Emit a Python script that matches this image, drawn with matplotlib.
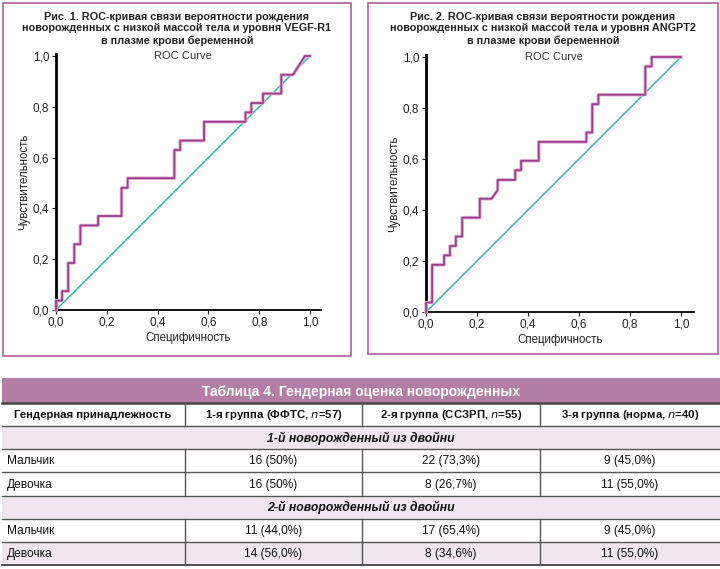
import matplotlib
matplotlib.use("Agg")
import matplotlib.pyplot as plt
from matplotlib.patches import Rectangle
from matplotlib.ticker import FuncFormatter

plt.rcParams['font.family'] = ['Liberation Sans', 'DejaVu Sans']

# ROC curve vertices (1 - specificity, sensitivity)
roc1_fpr = [0.0, 0.0, 0.024, 0.024, 0.048, 0.048, 0.072, 0.072, 0.096, 0.096, 0.166, 0.166,
            0.258, 0.258, 0.282, 0.282, 0.466, 0.466, 0.489, 0.489, 0.583, 0.583, 0.746, 0.746,
            0.769, 0.769, 0.815, 0.815, 0.887, 0.887, 0.933, 0.98, 1.0]
roc1_tpr = [0.0, 0.037, 0.037, 0.074, 0.074, 0.185, 0.185, 0.259, 0.259, 0.333, 0.333, 0.370,
            0.370, 0.481, 0.481, 0.519, 0.519, 0.630, 0.630, 0.667, 0.667, 0.741, 0.741, 0.778,
            0.778, 0.815, 0.815, 0.852, 0.852, 0.926, 0.926, 1.0, 1.0]

roc2_fpr = [0.0, 0.0, 0.024, 0.024, 0.071, 0.071, 0.094, 0.094, 0.117, 0.117, 0.142, 0.142,
            0.211, 0.211, 0.257, 0.281, 0.281, 0.35, 0.35, 0.373, 0.373, 0.442, 0.442, 0.629,
            0.629, 0.652, 0.652, 0.676, 0.676, 0.86, 0.86, 0.885, 0.885, 1.0]
roc2_tpr = [0.0, 0.037, 0.037, 0.185, 0.185, 0.222, 0.222, 0.259, 0.259, 0.296, 0.296, 0.370,
            0.370, 0.444, 0.444, 0.478, 0.518, 0.518, 0.556, 0.556, 0.593, 0.593, 0.667, 0.667,
            0.704, 0.704, 0.815, 0.815, 0.852, 0.852, 0.963, 0.963, 1.0, 1.0]

titles = ["Рис. 1. ROC-кривая связи вероятности рождения\n"
          "новорожденных с низкой массой тела и уровня VEGF-R1\n"
          "в плазме крови беременной",
          "Рис. 2. ROC-кривая связи вероятности рождения\n"
          "новорожденных с низкой массой тела и уровня ANGPT2\n"
          "в плазме крови беременной"]

ticks = [0.0, 0.2, 0.4, 0.6, 0.8, 1.0]

# table
table_title = "Таблица 4. Гендерная оценка новорожденных"
col_headers = ["Гендерная принадлежность", "1-я группа (ФФТС, $\\mathit{n}$=57)",
               "2-я группа (ССЗРП, $\\mathit{n}$=55)", "3-я группа (норма, $\\mathit{n}$=40)"]
section1 = "1-й новорожденный из двойни"
section2 = "2-й новорожденный из двойни"
row_labels = ["Мальчик", "Девочка"]
twin1_vals = [["16 (50%)", "22 (73,3%)", "9 (45,0%)"],
              ["16 (50%)", "8 (26,7%)", "11 (55,0%)"]]
twin2_vals = [["11 (44,0%)", "17 (65,4%)", "9 (45,0%)"],
              ["14 (56,0%)", "8 (34,6%)", "11 (55,0%)"]]

purple = '#b27ea6'
pink = '#f1e5ef'
border = '#b86aa2'
curve_col = '#9c3f8c'
diag_col = '#22b5a9'
narrow = ['Liberation Sans Narrow', 'Liberation Sans', 'DejaVu Sans']

W, H = 720, 569
fig = plt.figure(figsize=(7.2, 5.69), dpi=100)

# full-figure canvas in pixel coordinates
bg = fig.add_axes([0, 0, 1, 1])
bg.set_xlim(0, W)
bg.set_ylim(H, 0)
bg.axis('off')

# boxes around the figures
for x0, x1, y0, y1 in [(3, 351, 3, 356), (368, 718, 3, 354)]:
    bg.add_patch(Rectangle((x0, y0), x1 - x0, y1 - y0, fill=False, ec=border, lw=1.3))

for x0, x1, t in [(3, 351, titles[0]), (368, 718, titles[1])]:
    bg.text((x0 + x1) / 2, 11.5, t, ha='center', va='top', fontsize=7.8, fontweight='bold',
            linespacing=1.22, color='#222222')

# ---- ROC plots ----
def roc_axes(px_left, px_origin_y, px_unit, xmax, fpr, tpr):
    left = px_left / W
    bottom = 1 - px_origin_y / H
    width = px_unit * xmax / W
    height = px_unit * 1.008 / H
    ax = fig.add_axes([left, bottom, width, height])
    ax.set_xlim(0, xmax)
    ax.set_ylim(0, 1.008)
    ax.plot([0, 1], [0, 1], color=diag_col, lw=1.0, clip_on=False, zorder=2)
    ax.plot(fpr, tpr, color='#e2b5d8', lw=2.6, clip_on=False, zorder=3)
    ax.plot(fpr, tpr, color=curve_col, lw=1.3, clip_on=False, zorder=4)
    for s in ['top', 'right']:
        ax.spines[s].set_visible(False)
    ax.spines['left'].set_linewidth(2.0)
    ax.spines['bottom'].set_linewidth(1.3)
    ax.set_xticks(ticks)
    ax.set_yticks(ticks)
    fmt = FuncFormatter(lambda v, p: ('%.1f' % v).replace('.', ','))
    ax.xaxis.set_major_formatter(fmt)
    ax.yaxis.set_major_formatter(fmt)
    ax.tick_params(direction='out', length=3, width=0.8, labelsize=8.5, pad=2, colors='#222222')
    ax.set_xlabel("Специфичность", fontsize=8.3, labelpad=2, color='#222222')
    ax.set_ylabel("Чувствительность", fontsize=8.3, labelpad=2, color='#222222')
    ax.text(0.5, 1.0, "ROC Curve", ha='center', va='center', fontsize=8, color='#333333')
    ax.patch.set_alpha(0)
    return ax

roc_axes(56, 310, 254, 1.043, roc1_fpr, roc1_tpr)
roc_axes(426, 312, 255, 1.05, roc2_fpr, roc2_tpr)

# ---- table ----
tx0, tx1 = 2, 720
col_x = [2, 185, 362, 540, 720]
top = 378
head_b = 403
rh = (565 - head_b) / 7.0
rows_y = [head_b + i * rh for i in range(8)]

bg.add_patch(Rectangle((tx0, top), tx1 - tx0, head_b - top, color=purple, lw=0))
bg.text((tx0 + tx1) / 2, (top + head_b) / 2 + 1, table_title, ha='center', va='center',
        fontsize=10, fontweight='bold', color='white', family=narrow)

# shaded rows: sections and last row
for i in [1, 4, 6]:
    bg.add_patch(Rectangle((tx0, rows_y[i]), tx1 - tx0, rh, color=pink, lw=0))

# horizontal lines
bg.plot([tx0, tx1], [head_b, head_b], color='#444444', lw=1.8)
for y in rows_y[1:-1]:
    bg.plot([tx0, tx1], [y, y], color='#555555', lw=1.0)
bg.plot([tx0, tx1], [rows_y[-1], rows_y[-1]], color='#444444', lw=1.3)

# vertical lines (not in section rows)
for i in [0, 2, 3, 5, 6]:
    for cx in col_x[1:4]:
        bg.plot([cx, cx], [rows_y[i], rows_y[i + 1]], color='#555555', lw=1.0)

def cy(i):
    return (rows_y[i] + rows_y[i + 1]) / 2 + 0.5

# column headers
bg.text(14, cy(0), col_headers[0], ha='left', va='center', fontsize=8.2,
        fontweight='bold', color='#111111')
for j in range(1, 4):
    bg.text((col_x[j] + col_x[j + 1]) / 2, cy(0), col_headers[j], ha='center', va='center',
            fontsize=8.2, fontweight='bold', color='#111111')

bg.text((tx0 + tx1) / 2, cy(1), section1, ha='center', va='center', fontsize=8.8,
        fontweight='bold', style='italic', color='#111111', family=narrow)
bg.text((tx0 + tx1) / 2, cy(4), section2, ha='center', va='center', fontsize=8.8,
        fontweight='bold', style='italic', color='#111111', family=narrow)

for base, vals in [(2, twin1_vals), (5, twin2_vals)]:
    for r in range(2):
        i = base + r
        bg.text(7, cy(i), row_labels[r], ha='left', va='center', fontsize=8.6,
                color='#111111', family=narrow)
        for j in range(3):
            bg.text((col_x[j + 1] + col_x[j + 2]) / 2, cy(i), vals[r][j], ha='center',
                    va='center', fontsize=8.6, color='#111111', family=narrow)

fig.savefig('out.png', dpi=100)
